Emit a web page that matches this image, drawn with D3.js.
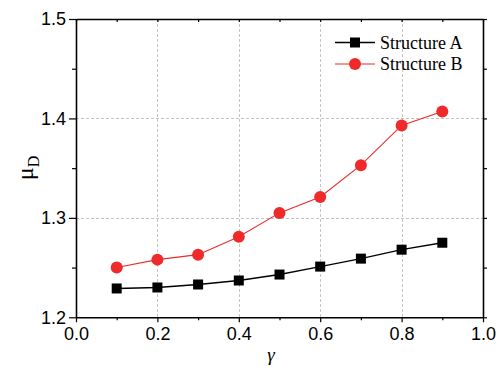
<!DOCTYPE html>
<html>
<head>
<meta charset="utf-8">
<script src="https://cdn.jsdelivr.net/npm/d3@7"></script>
<style>
  html, body { margin: 0; padding: 0; background: #fff; }
  svg { display: block; }
</style>
</head>
<body>
<div id="chart"></div>
<script>
// gamma values on the x axis
const gammaValues = [0.1, 0.2, 0.3, 0.4, 0.5, 0.6, 0.7, 0.8, 0.9];
// mu_D for each structure
const structureA = [1.229, 1.230, 1.233, 1.237, 1.243, 1.251, 1.259, 1.268, 1.275];
const structureB = [1.250, 1.258, 1.263, 1.281, 1.305, 1.321, 1.353, 1.393, 1.407];
const seriesNames = ["Structure A", "Structure B"];
const xTicks = [0.0, 0.2, 0.4, 0.6, 0.8, 1.0];
const yTicks = [1.2, 1.3, 1.4, 1.5];
const xMinorTicks = [0.1, 0.3, 0.5, 0.7, 0.9];
const yMinorTicks = [1.25, 1.35, 1.45];

const W = 496, H = 367;
const plotLeft = 76, plotRight = 483, plotTop = 19, plotBottom = 317.3;

const svg = d3.select("#chart").append("svg")
  .attr("width", W).attr("height", H);

const x = d3.scaleLinear().domain([0, 1]).range([plotLeft, plotRight]);
const y = d3.scaleLinear().domain([1.2, 1.5]).range([plotBottom, plotTop]);

const fmt = d3.format(".1f");

// dashed grid at interior major ticks
const grid = svg.append("g").attr("stroke", "#c4c4c4").attr("stroke-width", 1)
  .attr("stroke-dasharray", "3,2");
grid.selectAll("line.gx").data(xTicks.filter(t => t > 0 && t < 1)).join("line")
  .attr("x1", d => Math.round(x(d)) + 0.5).attr("x2", d => Math.round(x(d)) + 0.5)
  .attr("y1", plotTop).attr("y2", plotBottom);
grid.selectAll("line.gy").data(yTicks.filter(t => t > 1.2 && t < 1.5)).join("line")
  .attr("y1", d => Math.round(y(d)) + 0.5).attr("y2", d => Math.round(y(d)) + 0.5)
  .attr("x1", plotLeft).attr("x2", plotRight);

// bottom axis
svg.append("g").attr("transform", `translate(0,${plotBottom})`)
  .call(d3.axisBottom(x).tickValues(xTicks).tickFormat(fmt).tickSizeInner(5).tickSizeOuter(0).tickPadding(5));
svg.append("g").attr("transform", `translate(0,${plotBottom})`)
  .call(d3.axisBottom(x).tickValues(xMinorTicks).tickFormat("").tickSizeInner(3).tickSizeOuter(0))
  .call(g => g.select(".domain").remove());

// left axis
svg.append("g").attr("transform", `translate(${plotLeft},0)`)
  .call(d3.axisLeft(y).tickValues(yTicks).tickFormat(fmt).tickSizeInner(7).tickSizeOuter(0).tickPadding(3));
svg.append("g").attr("transform", `translate(${plotLeft},0)`)
  .call(d3.axisLeft(y).tickValues(yMinorTicks).tickFormat("").tickSizeInner(4).tickSizeOuter(0))
  .call(g => g.select(".domain").remove());

// top and right mirror axes
svg.append("g").attr("transform", `translate(0,${plotTop})`)
  .call(d3.axisTop(x).tickValues(xMinorTicks.concat(xTicks)).tickFormat("").tickSizeInner(-3).tickSizeOuter(0));
svg.append("g").attr("transform", `translate(${plotRight},0)`)
  .call(d3.axisRight(y).tickValues(yMinorTicks.concat(yTicks)).tickFormat("").tickSizeInner(4).tickSizeOuter(0));

svg.selectAll(".domain").attr("stroke", "#000").attr("stroke-width", 1.6);
svg.selectAll(".tick line").attr("stroke", "#000").attr("stroke-width", 1.2);
svg.selectAll(".tick text")
  .attr("font-family", "'Liberation Sans', Arial, sans-serif")
  .attr("font-size", 18).attr("fill", "#000");

// axis titles
svg.append("text")
  .attr("x", 271).attr("y", 361)
  .attr("text-anchor", "middle")
  .attr("font-family", "'Liberation Serif', 'Times New Roman', serif")
  .attr("font-style", "italic").attr("font-size", 19)
  .text("γ");

const yTitle = svg.append("text")
  .attr("transform", "translate(33,168) rotate(-90)")
  .attr("text-anchor", "middle")
  .attr("font-family", "'Liberation Serif', 'Times New Roman', serif")
  .attr("font-size", 24);
yTitle.append("tspan").text("μ");
yTitle.append("tspan").attr("font-size", 16).attr("dy", 6).text("D");

// series
const series = [
  { name: seriesNames[0], values: structureA, color: "#000000", lineWidth: 1.4, shape: "square" },
  { name: seriesNames[1], values: structureB, color: "#ee2a2a", lineWidth: 1.1, shape: "circle" }
];

const line = d3.line().x(d => x(d[0])).y(d => y(d[1]));

function drawMarker(g, shape, color, cx, cy) {
  if (shape === "square") {
    g.append("rect").attr("x", cx - 5).attr("y", cy - 5).attr("width", 10).attr("height", 10)
      .attr("fill", color);
  } else {
    g.append("circle").attr("cx", cx).attr("cy", cy).attr("r", 6).attr("fill", color);
  }
}

series.forEach(s => {
  const pts = gammaValues.map((g, i) => [g, s.values[i]]);
  svg.append("path").datum(pts).attr("d", line)
    .attr("fill", "none").attr("stroke", s.color).attr("stroke-width", s.lineWidth);
  const mg = svg.append("g");
  pts.forEach(p => drawMarker(mg, s.shape, s.color, x(p[0]), y(p[1])));
});

// legend
const legend = svg.append("g");
series.forEach((s, i) => {
  const ly = 42.5 + i * 21.5;
  legend.append("line").attr("x1", 335).attr("x2", 375).attr("y1", ly).attr("y2", ly)
    .attr("stroke", s.color).attr("stroke-width", s.lineWidth);
  drawMarker(legend, s.shape, s.color, 355, ly);
  legend.append("text").attr("x", 380).attr("y", ly + 6)
    .attr("font-family", "'Liberation Serif', 'Times New Roman', serif")
    .attr("font-size", 18).attr("fill", "#000")
    .text(s.name);
});
</script>
</body>
</html>
